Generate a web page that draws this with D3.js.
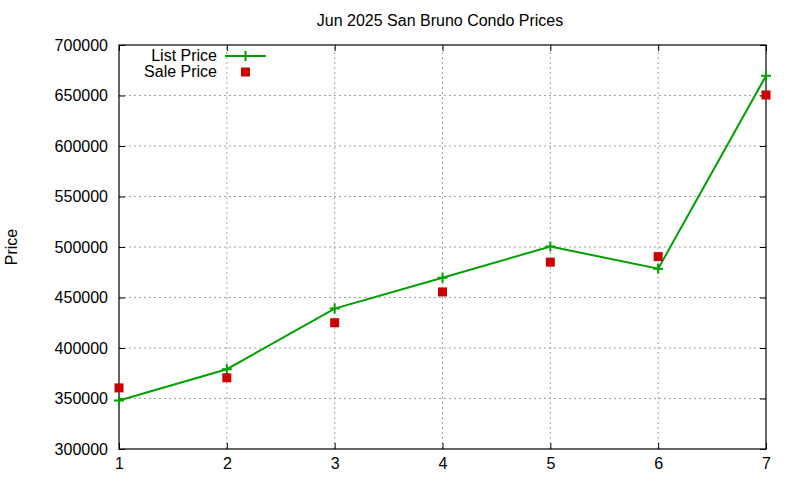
<!DOCTYPE html>
<html>
<head>
<meta charset="utf-8">
<script src="https://cdn.jsdelivr.net/npm/d3@7"></script>
<style>
  body { margin: 0; background: #fff; }
  text { font-family: "Liberation Sans", Arial, sans-serif; fill: #000; }
</style>
</head>
<body>
<svg id="chart" width="800" height="480"></svg>
<script>
// Chart data
const months = [1, 2, 3, 4, 5, 6, 7];
const listPrice = [348000, 379000, 439000, 469500, 500500, 478500, 669500];
const salePrice = [360500, 370500, 425000, 455500, 485000, 490500, 650500];
const yTicks = [300000, 350000, 400000, 450000, 500000, 550000, 600000, 650000, 700000];

const svg = d3.select('#chart');
const margin = { left: 119, right: 34, top: 45, bottom: 31 };
const width = 800, height = 480;

const x = d3.scaleLinear().domain([1, 7]).range([margin.left, width - margin.right]);
const y = d3.scaleLinear().domain([300000, 700000]).range([height - margin.bottom, margin.top]);

const GREEN = '#00a000';
const RED = '#cc0000';

// Grid
const grid = svg.append('g').attr('stroke', '#a0a0a0').attr('stroke-width', 1)
  .attr('stroke-dasharray', '2,3');
grid.selectAll('.gx').data(months.slice(1, -1)).enter().append('line')
  .attr('x1', d => x(d)).attr('x2', d => x(d))
  .attr('y1', y.range()[0]).attr('y2', y.range()[1]);
grid.selectAll('.gy').data(yTicks.slice(1, -1)).enter().append('line')
  .attr('y1', d => y(d)).attr('y2', d => y(d))
  .attr('x1', x.range()[0]).attr('x2', x.range()[1]);

// Axes (ticks inward, mirrored like gnuplot)
const fontSize = '16px';
const axLeft = svg.append('g').attr('transform', `translate(${margin.left},0)`)
  .call(d3.axisLeft(y).tickValues(yTicks).tickSize(-6).tickPadding(11).tickFormat(d3.format('d')));
const axRight = svg.append('g').attr('transform', `translate(${width - margin.right},0)`)
  .call(d3.axisRight(y).tickValues(yTicks).tickSize(-6).tickFormat(''));
const axBottom = svg.append('g').attr('transform', `translate(0,${height - margin.bottom})`)
  .call(d3.axisBottom(x).tickValues(months).tickSize(-6).tickPadding(9).tickFormat(d3.format('d')));
const axTop = svg.append('g').attr('transform', `translate(0,${margin.top})`)
  .call(d3.axisTop(x).tickValues(months).tickSize(-6).tickFormat(''));

[axLeft, axRight, axBottom, axTop].forEach(a => {
  a.select('.domain').remove();
  a.selectAll('line').attr('stroke', '#000');
  a.selectAll('text').style('font-size', fontSize).attr('font-family', null);
});

// Border
svg.append('rect')
  .attr('x', margin.left).attr('y', margin.top)
  .attr('width', width - margin.left - margin.right)
  .attr('height', height - margin.top - margin.bottom)
  .attr('fill', 'none').attr('stroke', '#000').attr('stroke-width', 1.2);

// List price line
const line = d3.line().x((d, i) => x(months[i])).y(d => y(d));
svg.append('path').datum(listPrice)
  .attr('d', line).attr('fill', 'none')
  .attr('stroke', GREEN).attr('stroke-width', 2);

const plus = (g, cx, cy) => {
  g.append('path')
    .attr('d', `M${cx - 5},${cy}H${cx + 5}M${cx},${cy - 5}V${cy + 5}`)
    .attr('stroke', GREEN).attr('stroke-width', 2);
};
const pts = svg.append('g');
listPrice.forEach((v, i) => plus(pts, x(months[i]), y(v)));

// Sale price points
svg.append('g').selectAll('rect').data(salePrice).enter().append('rect')
  .attr('x', (d, i) => x(months[i]) - 4.5).attr('y', d => y(d) - 4.5)
  .attr('width', 9).attr('height', 9).attr('fill', RED);

// Legend
const lg = svg.append('g');
lg.append('text').attr('x', 217).attr('y', 61).attr('text-anchor', 'end')
  .style('font-size', fontSize).text('List Price');
lg.append('line').attr('x1', 225).attr('x2', 266).attr('y1', 56).attr('y2', 56)
  .attr('stroke', GREEN).attr('stroke-width', 2);
plus(lg, 245.5, 56);
lg.append('text').attr('x', 217).attr('y', 77).attr('text-anchor', 'end')
  .style('font-size', fontSize).text('Sale Price');
lg.append('rect').attr('x', 241).attr('y', 67.5).attr('width', 9).attr('height', 9).attr('fill', RED);

// Title and axis label
svg.append('text').attr('x', 440).attr('y', 26).attr('text-anchor', 'middle')
  .style('font-size', fontSize).text('Jun 2025 San Bruno Condo Prices');
svg.append('text').attr('transform', 'translate(17,247) rotate(-90)')
  .attr('text-anchor', 'middle').style('font-size', fontSize).text('Price');
</script>
</body>
</html>
